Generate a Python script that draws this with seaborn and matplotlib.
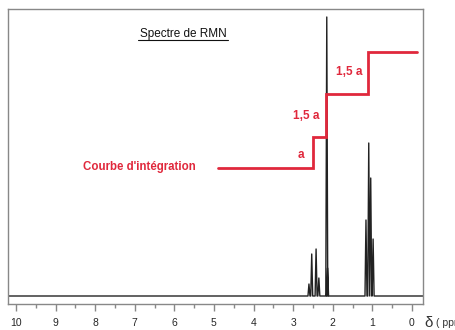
import matplotlib
matplotlib.use("Agg")
import matplotlib.pyplot as plt
import numpy as np
import pandas as pd
import seaborn as sns

# peaks of the spectrum (ppm, height in arbitrary units)
peak_ppm = [2.60, 2.53, 2.42, 2.35, 2.15, 2.13, 1.16, 1.09, 1.04, 0.98]
peak_height = [12, 42, 47, 18, 279, 28, 76, 153, 118, 57]
peak_width = 0.025

# integration curve (step levels)
integ_ppm = [4.9, 2.5, 2.17, 1.11, -0.13]
integ_level = [128, 159, 202, 244, 244]

tick_major = list(range(0, 11))
tick_minor = [x + 0.5 for x in range(0, 10)]

sns.set_style("white")
plt.rcParams['font.family'] = ['Liberation Sans', 'DejaVu Sans']

# build the spectrum trace from the peak list
xs, ys = [10.2], [0]
for p, h in sorted(zip(peak_ppm, peak_height), reverse=True):
    xs += [p + peak_width, p, p - peak_width]
    ys += [0, h, 0]
xs.append(-0.3)
ys.append(0)
spec = pd.DataFrame({"ppm": xs, "I": ys})

fig = plt.figure(figsize=(4.56, 3.30), dpi=100)
ax = fig.add_axes([8 / 456, 1 - 304 / 330, 415 / 456, 295 / 330])

sns.lineplot(data=spec, x="ppm", y="I", sort=False, color="#222222",
             linewidth=1.0, ax=ax, estimator=None)
ax.plot(integ_ppm, integ_level, drawstyle="steps-post", color="#E0283C",
        linewidth=2.0, solid_joinstyle="miter")

ax.set_xlim(10.2, -0.28)
ax.set_ylim(-8, 287)
ax.set_xlabel("")
ax.set_ylabel("")
ax.set_yticks([])
ax.set_xticks(tick_major)
ax.set_xticks(tick_minor, minor=True)
ax.set_xticklabels([str(t) for t in tick_major])
ax.tick_params(axis="x", which="major", direction="out", length=5, width=1,
               color="#888888", labelsize=7.5, pad=5, bottom=True)
ax.tick_params(axis="x", which="minor", direction="out", length=3, width=1,
               color="#888888", bottom=True)
for s in ax.spines.values():
    s.set_color("#888888")
    s.set_linewidth(1.0)

# texts
ax.text(0.422, 0.915, "Spectre de RMN", transform=ax.transAxes, ha="center",
        va="center", fontsize=8.5, color="#111111")
ax.plot([0.313, 0.529], [0.895, 0.895], transform=ax.transAxes,
        color="#111111", linewidth=0.8)
ax.text(0.181, 0.466, "Courbe d'intégration", transform=ax.transAxes,
        ha="left", va="center", fontsize=8.3, fontweight="bold", color="#E0283C")
ax.text(2.8, 141, "a", ha="center", va="center", fontsize=8.5,
        fontweight="bold", color="#E0283C")
ax.text(2.68, 180, "1,5 a", ha="center", va="center", fontsize=8.5,
        fontweight="bold", color="#E0283C")
ax.text(1.57, 224, "1,5 a", ha="center", va="center", fontsize=8.5,
        fontweight="bold", color="#E0283C")
fig.text(424 / 456, 1 - 323 / 330, "δ", fontsize=11, va="center", ha="left",
         color="#333333")
fig.text(436 / 456, 1 - 323 / 330, "( ppm )", fontsize=7.5, va="center",
         ha="left", color="#333333")

fig.savefig("out.png", dpi=100)
